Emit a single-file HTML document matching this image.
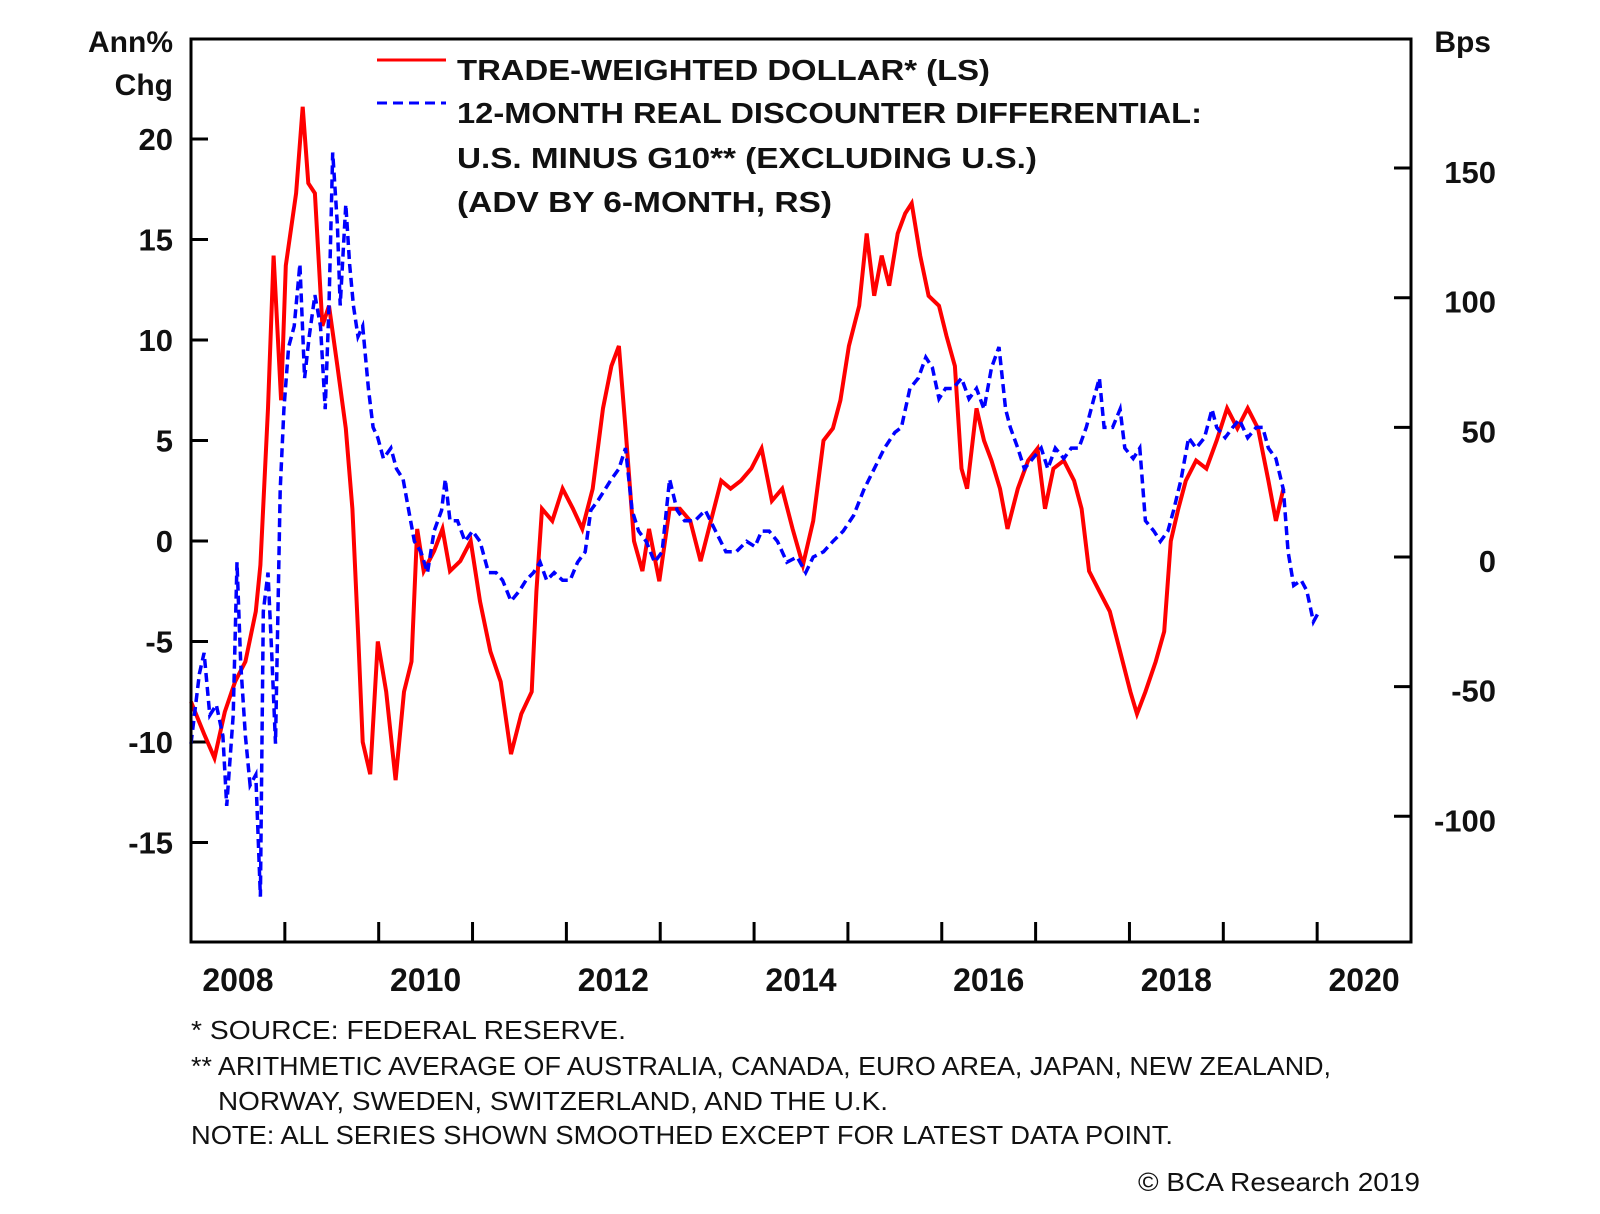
<!DOCTYPE html>
<html><head><meta charset="utf-8"><style>
html,body{margin:0;padding:0;background:#fff;}
svg{display:block;font-family:"Liberation Sans",Arial,sans-serif;}
.t{fill:#111;font-weight:bold;}
.f{fill:#111;font-size:26px;}
</style></head><body>
<svg id="chart" width="1600" height="1214" viewBox="0 0 1600 1214">
<g id="axes"></g>
<g id="series"></g>
<rect x="191" y="39" width="1220" height="903" fill="none" stroke="#000" stroke-width="3"/>
<g>
<line x1="377" y1="60" x2="446" y2="60" stroke="#f00" stroke-width="3"/>
<line x1="377" y1="103" x2="446" y2="103" stroke="#00f" stroke-width="3" stroke-dasharray="10,6"/>
<text class="t" x="457" y="80" font-size="29" textLength="533" lengthAdjust="spacingAndGlyphs">TRADE-WEIGHTED DOLLAR* (LS)</text>
<text class="t" x="457" y="123" font-size="29" textLength="745" lengthAdjust="spacingAndGlyphs">12-MONTH REAL DISCOUNTER DIFFERENTIAL:</text>
<text class="t" x="457" y="168" font-size="29" textLength="580" lengthAdjust="spacingAndGlyphs">U.S. MINUS G10** (EXCLUDING U.S.)</text>
<text class="t" x="457" y="212" font-size="29" textLength="375" lengthAdjust="spacingAndGlyphs">(ADV BY 6-MONTH, RS)</text>
</g>
<text class="t" x="173" y="52" font-size="30" text-anchor="end">Ann%</text>
<text class="t" x="173" y="95" font-size="30" text-anchor="end">Chg</text>
<text class="t" x="1491" y="52" font-size="30" text-anchor="end">Bps</text>
<g>
<text class="f" x="191" y="1039" textLength="435" lengthAdjust="spacingAndGlyphs">*  SOURCE: FEDERAL RESERVE.</text>
<text class="f" x="191" y="1075" textLength="1140" lengthAdjust="spacingAndGlyphs">** ARITHMETIC AVERAGE OF AUSTRALIA, CANADA, EURO AREA, JAPAN, NEW ZEALAND,</text>
<text class="f" x="218" y="1110" textLength="670" lengthAdjust="spacingAndGlyphs">NORWAY, SWEDEN, SWITZERLAND, AND THE U.K.</text>
<text class="f" x="191" y="1144" textLength="982" lengthAdjust="spacingAndGlyphs">NOTE: ALL SERIES SHOWN SMOOTHED EXCEPT FOR LATEST DATA POINT.</text>
<text class="f" x="1420" y="1191" text-anchor="end" textLength="282" lengthAdjust="spacingAndGlyphs">© BCA Research 2019</text>
</g>
</svg>
<script>
const leftTicks = [20, 15, 10, 5, 0, -5, -10, -15];
const rightTicks = [150, 100, 50, 0, -50, -100];
const yearTicks = [2009,2010,2011,2012,2013,2014,2015,2016,2017,2018,2019,2020];
const yearLabels = [2008, 2010, 2012, 2014, 2016, 2018, 2020];
const redDates = [2008.00,2008.14,2008.25,2008.36,2008.47,2008.58,2008.69,2008.74,2008.82,2008.88,2008.96,2009.01,2009.12,2009.19,2009.25,2009.32,2009.40,2009.47,2009.56,2009.65,2009.72,2009.78,2009.83,2009.91,2009.99,2010.08,2010.18,2010.27,2010.35,2010.41,2010.48,2010.59,2010.68,2010.76,2010.87,2010.98,2011.08,2011.19,2011.30,2011.41,2011.52,2011.63,2011.68,2011.74,2011.85,2011.96,2012.07,2012.17,2012.28,2012.39,2012.48,2012.56,2012.63,2012.72,2012.81,2012.88,2012.99,2013.10,2013.21,2013.32,2013.43,2013.54,2013.65,2013.75,2013.86,2013.97,2014.08,2014.19,2014.30,2014.41,2014.52,2014.63,2014.74,2014.84,2014.92,2015.01,2015.12,2015.20,2015.28,2015.36,2015.44,2015.53,2015.61,2015.68,2015.77,2015.86,2015.97,2016.05,2016.14,2016.21,2016.27,2016.37,2016.45,2016.53,2016.62,2016.70,2016.81,2016.92,2017.02,2017.10,2017.19,2017.30,2017.41,2017.49,2017.57,2017.68,2017.79,2017.90,2018.01,2018.08,2018.17,2018.28,2018.37,2018.44,2018.52,2018.60,2018.71,2018.82,2018.93,2019.04,2019.15,2019.26,2019.37,2019.48,2019.56,2019.64];
const redValues = [-8,-9.6,-10.8,-8.5,-7,-6,-3.5,-1.2,6.6,14.2,7,13.7,17.3,21.6,17.8,17.3,10.7,11.7,8.7,5.6,1.6,-4.5,-10,-11.6,-5,-7.5,-11.9,-7.5,-6,0.6,-1.5,-0.5,0.6,-1.5,-1,0,-3,-5.5,-7,-10.6,-8.6,-7.5,-2.5,1.6,1,2.6,1.6,0.6,2.6,6.6,8.7,9.7,5.6,0,-1.5,0.6,-2,1.6,1.6,1,-1,1,3,2.6,3,3.6,4.6,2,2.6,0.6,-1.2,1,5,5.6,7,9.7,11.7,15.3,12.2,14.2,12.7,15.3,16.3,16.8,14.2,12.2,11.7,10.2,8.7,3.6,2.6,6.6,5,4,2.6,0.6,2.6,4,4.6,1.6,3.6,4,3,1.6,-1.5,-2.5,-3.5,-5.5,-7.5,-8.6,-7.5,-6,-4.5,0,1.6,3,4,3.6,5,6.6,5.6,6.6,5.6,3,1,2.6];
const blueDates = [2008.00,2008.09,2008.14,2008.20,2008.27,2008.34,2008.38,2008.45,2008.49,2008.53,2008.58,2008.63,2008.69,2008.74,2008.77,2008.82,2008.86,2008.90,2008.95,2008.99,2009.04,2009.10,2009.16,2009.21,2009.26,2009.32,2009.38,2009.43,2009.47,2009.51,2009.56,2009.59,2009.65,2009.69,2009.73,2009.78,2009.83,2009.89,2009.94,2009.99,2010.05,2010.13,2010.19,2010.26,2010.32,2010.38,2010.45,2010.52,2010.59,2010.67,2010.71,2010.76,2010.84,2010.92,2011.00,2011.08,2011.17,2011.25,2011.32,2011.41,2011.50,2011.57,2011.65,2011.72,2011.79,2011.87,2011.96,2012.04,2012.12,2012.20,2012.26,2012.34,2012.41,2012.48,2012.56,2012.63,2012.70,2012.77,2012.85,2012.94,2013.02,2013.10,2013.18,2013.26,2013.37,2013.48,2013.59,2013.70,2013.81,2013.92,2014.01,2014.08,2014.16,2014.25,2014.35,2014.46,2014.55,2014.63,2014.74,2014.84,2014.95,2015.06,2015.17,2015.28,2015.39,2015.50,2015.57,2015.66,2015.75,2015.83,2015.90,2015.97,2016.04,2016.12,2016.21,2016.29,2016.37,2016.45,2016.53,2016.61,2016.68,2016.73,2016.81,2016.88,2016.97,2017.06,2017.13,2017.21,2017.30,2017.38,2017.46,2017.54,2017.62,2017.68,2017.73,2017.82,2017.90,2017.95,2018.04,2018.11,2018.17,2018.26,2018.33,2018.41,2018.47,2018.55,2018.63,2018.71,2018.80,2018.88,2018.93,2019.02,2019.10,2019.17,2019.26,2019.35,2019.42,2019.48,2019.56,2019.64,2019.69,2019.75,2019.83,2019.89,2019.96,2020.02];
const blueValues = [-72,-45,-37,-61,-57,-69,-96,-61,-2,-41,-69,-88,-84,-131,-21,-6,-37,-72,26,57,81,89,113,69,85,101,89,57,97,156,128,97,136,113,97,85,89,65,50,46,38,42,34,30,18,6,2,-6,10,18,30,14,14,6,10,6,-6,-6,-9,-17,-13,-9,-6,-2,-9,-6,-9,-9,-2,2,18,22,26,30,34,42,18,10,6,-2,2,30,18,14,14,18,10,2,2,6,4,10,10,6,-2,0,-6,0,2,6,10,16,26,34,42,48,50,65,69,77,73,61,65,65,69,61,65,57,73,81,57,50,42,34,38,42,34,42,38,42,42,50,61,69,50,50,57,42,38,42,14,10,6,10,18,30,46,42,46,57,50,46,50,53,46,50,50,42,38,26,2,-11,-9,-13,-25,-21];

const NS = 'http://www.w3.org/2000/svg';
const X0 = 191, X1 = 1411, T0 = 2008, T1 = 2021;
function xScale(t){ return X0 + (t - T0) * (X1 - X0) / (T1 - T0); }
function yLeft(v){ return 541 - v * 20.1; }
function yRight(v){ return 557 - v * 2.593; }
function mk(tag, attrs, parent){ const e = document.createElementNS(NS, tag); for (const k in attrs) e.setAttribute(k, attrs[k]); parent.appendChild(e); return e; }
const axes = document.getElementById('axes');
const series = document.getElementById('series');

leftTicks.forEach(v => {
  const y = yLeft(v);
  const l = mk('line', {x1: X0, x2: X0 + 17, y1: y, y2: y, stroke: '#000', 'stroke-width': 3}, axes);
  
  
  const t = mk('text', {x: 173, y: y + 11, 'text-anchor': 'end', 'font-size': 31, class: 't'}, axes);
  t.textContent = v;
  
  
});
rightTicks.forEach(v => {
  const y = yRight(v);
  const l = mk('line', {x1: X1 - 17, x2: X1, y1: y, y2: y, stroke: '#000', 'stroke-width': 3}, axes);
  
  
  const t = mk('text', {x: 1496, y: y + 15, 'text-anchor': 'end', 'font-size': 31, class: 't'}, axes);
  t.textContent = v;
  
  
});
yearTicks.forEach(yr => {
  const x = xScale(yr);
  const l = mk('line', {x1: x, x2: x, y1: 942, y2: 922, stroke: '#000', 'stroke-width': 3}, axes);
  
  
});
yearLabels.forEach(yr => {
  const t = mk('text', {x: xScale(yr + 0.5), y: 991, 'text-anchor': 'middle', 'font-size': 32, class: 't'}, axes);
  t.textContent = yr;
  
  
});

const redPts = redDates.map((d, i) => xScale(d).toFixed(1) + ',' + yLeft(redValues[i]).toFixed(1)).join(' ');
const red = mk('polyline', {points: redPts, fill: 'none', stroke: '#f00', 'stroke-width': 4, 'stroke-linejoin': 'miter'}, series);


const bluePts = blueDates.map((d, i) => xScale(d).toFixed(1) + ',' + yRight(blueValues[i]).toFixed(1)).join(' ');
const blue = mk('polyline', {points: bluePts, fill: 'none', stroke: '#00f', 'stroke-width': 3.5, 'stroke-dasharray': '9,5'}, series);


</script>
</body></html>
